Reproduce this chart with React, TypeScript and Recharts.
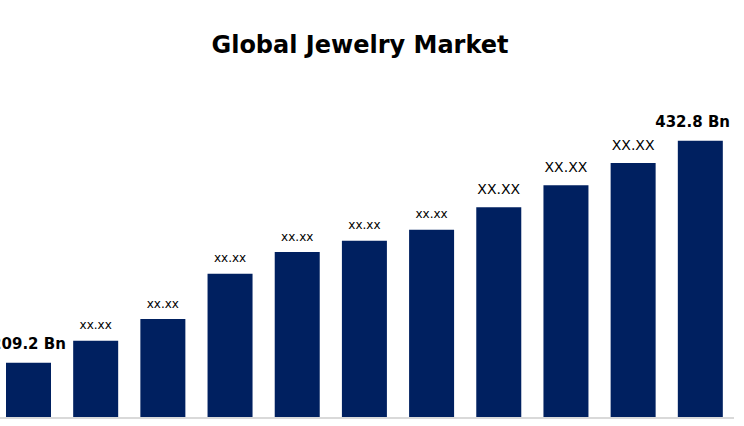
import React from "react";
import { BarChart, Bar, XAxis, YAxis, LabelList, ReferenceLine } from "recharts";

const categories = ["2021", "2022", "2023", "2024", "2025", "2026", "2027", "2028", "2029", "2030", "2031"];
const marketValues = [209.2, 231.4, 253.2, 298.8, 320.7, 332.1, 343.2, 365.7, 387.9, 410.4, 432.8];
const valueLabels = ["209.2 Bn", "xx.xx", "xx.xx", "xx.xx", "xx.xx", "xx.xx", "xx.xx", "XX.XX", "XX.XX", "XX.XX", "432.8 Bn"];
const axisMin = 153.5;
const axisMax = 473.8;

const data = categories.map((c, i) => ({ year: c, value: marketValues[i], label: valueLabels[i] }));

const BAR_COLOR = "#002060";
const CHART_W = 744;
const RIGHT_LIMIT = 735; // chart coords, keeps end label inside the frame

const renderLabel = (props: any) => {
  const { x, y, width, index } = props;
  const text = valueLabels[index];
  const isBn = text.endsWith("Bn");
  const isUpper = text === text.toUpperCase() && !isBn;
  const fontSize = isBn ? 15 : isUpper ? 14 : 12;
  const gap = isBn || isUpper ? 13.4 : 11.4;
  let cx = Number(x) + Number(width) / 2;
  const half = isBn ? 37.4 : 0;
  let anchor: "middle" | "end" = "middle";
  if (isBn && cx + half > RIGHT_LIMIT) {
    cx = RIGHT_LIMIT;
    anchor = "end";
  }
  return (
    <text
      x={cx}
      y={Number(y) - gap}
      textAnchor={anchor}
      fontFamily="DejaVu Sans"
      fontWeight={isBn ? "bold" : "normal"}
      fontSize={fontSize}
      fill="#000"
    >
      {text}
    </text>
  );
};

export default function App() {
  return (
    <div style={{ position: "absolute", left: 0, top: 0, width: 744, height: 426, overflow: "hidden", background: "#fff" }}>
      <div style={{ position: "absolute", left: -5, top: 0 }}>
        <BarChart
          width={CHART_W}
          height={426}
          data={data}
          margin={{ top: 100, right: 5, bottom: 8, left: 0 }}
        >
          <XAxis dataKey="year" hide />
          <YAxis hide domain={[axisMin, axisMax]} allowDataOverflow />
          <Bar dataKey="value" fill={BAR_COLOR} barSize={45} isAnimationActive={false}>
            <LabelList dataKey="label" content={renderLabel} />
          </Bar>
          <ReferenceLine y={axisMin} stroke="#d9d9d9" strokeWidth={2} />
        </BarChart>
      </div>
      <svg width={744} height={80} style={{ position: "absolute", left: 0, top: 0 }}>
        <text x={360} y={53} textAnchor="middle" fontFamily="DejaVu Sans" fontWeight="bold" fontSize={24} fill="#000">
          Global Jewelry Market
        </text>
      </svg>
    </div>
  );
}
